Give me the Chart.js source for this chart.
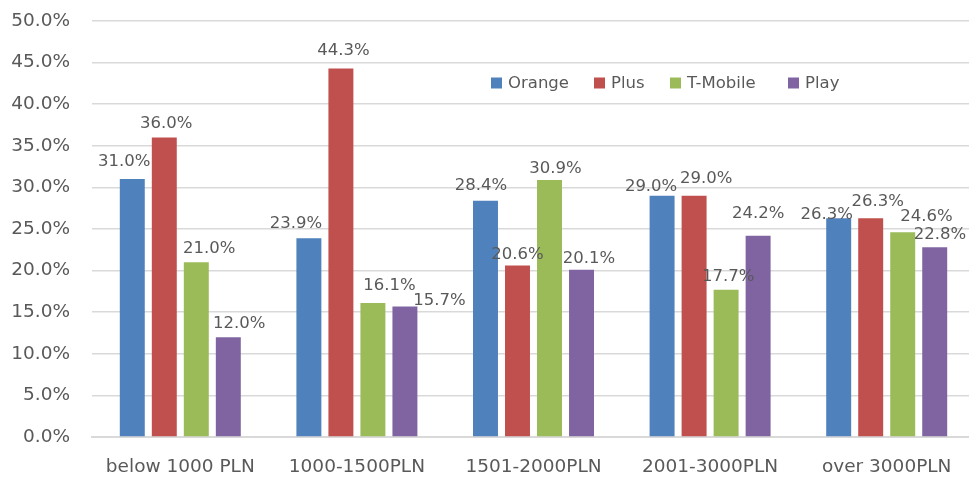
<!DOCTYPE html>
<html><head><meta charset="utf-8">
<script src="https://cdn.jsdelivr.net/npm/chart.js@4/dist/chart.umd.min.js"></script>
<style>html,body{margin:0;padding:0;background:#fff;overflow:hidden;}#wrap{width:976px;height:477px;}</style>
</head><body><div id="wrap"><canvas id="c" width="976" height="477"></canvas></div>
<script>
const categories = ["below 1000 PLN", "1000-1500PLN", "1501-2000PLN", "2001-3000PLN", "over 3000PLN"];
const seriesNames = ["Orange", "Plus", "T-Mobile", "Play"];
const orange = [31.0, 23.9, 28.4, 29.0, 26.3];
const plus = [36.0, 44.3, 20.6, 29.0, 26.3];
const tmobile = [21.0, 16.1, 30.9, 17.7, 24.6];
const play = [12.0, 15.7, 20.1, 24.2, 22.8];
const colors = ["#4F81BD", "#C0504D", "#9BBB59", "#8064A2"];
const FONT = "'DejaVu Sans', sans-serif";
const TXT = "#595959";

// manual nudges of the data labels (dx, dy of the label's cap-centre relative to bar top-centre)
const labelNudges = [
  [[-8,-19], [-13,-16], [-4.5,-17], [-11,-11], [-12,-5.6]],
  [[2,-15.7], [2.5,-19], [0,-12.3], [12,-19], [7,-18]],
  [[13,-15.6], [16.5,-19], [6,-13.3], [2,-15], [23.7,-17.7]],
  [[11,-15.6], [34.5,-7.7], [7.5,-12.3], [0,-23.7], [5.3,-14]]
];
const legendSlots = [491, 594, 670, 788];

const labelPlugin = {
  id: 'vals',
  afterDatasetsDraw(chart) {
    const ctx = chart.ctx;
    const size = 16.5;
    ctx.save();
    ctx.font = size + "px " + FONT;
    ctx.fillStyle = TXT;
    ctx.textAlign = 'center';
    ctx.textBaseline = 'alphabetic';
    const half = 0.729 * size / 2;
    chart.data.datasets.forEach((ds, i) => {
      chart.getDatasetMeta(i).data.forEach((bar, j) => {
        const n = labelNudges[i][j];
        ctx.fillText(ds.data[j].toFixed(1) + '%', bar.x + n[0], bar.y + n[1] + half);
      });
    });
    ctx.restore();
  }
};
const legendPlugin = {
  id: 'inlegend',
  afterDraw(chart) {
    const ctx = chart.ctx;
    const size = 16.5;
    ctx.save();
    ctx.font = size + "px " + FONT;
    ctx.textBaseline = 'alphabetic';
    const y = 82;
    chart.data.datasets.forEach((ds, i) => {
      const x = legendSlots[i];
      ctx.fillStyle = ds.backgroundColor;
      ctx.fillRect(x, y - 4.5, 11, 11);
      ctx.fillStyle = TXT;
      ctx.textAlign = 'left';
      ctx.fillText(ds.label, x + 17, y + 0.729 * size / 2);
    });
    ctx.restore();
  }
};

new Chart(document.getElementById('c'), {
  type: 'bar',
  data: {
    labels: categories,
    datasets: [orange, plus, tmobile, play].map((d, i) => ({
      label: seriesNames[i], data: d, backgroundColor: colors[i],
      categoryPercentage: 0.725, barPercentage: 0.78
    }))
  },
  options: {
    responsive: false, animation: false,
    layout: { padding: { top: 21, right: 1, left: 0, bottom: 0 } },
    plugins: { legend: { display: false }, tooltip: { enabled: false } },
    scales: {
      x: {
        grid: { display: false, drawTicks: false },
        border: { display: true, color: '#d9d9d9', width: 2 },
        ticks: { color: TXT, font: { size: 18.5, family: FONT }, padding: 19, maxRotation: 0 },
        afterFit(s) { s.height = 40; s.paddingLeft = 0; s.paddingRight = 0; }
      },
      y: {
        min: 0, max: 50,
        grid: { color: '#d9d9d9', drawTicks: false, lineWidth: 1.5 },
        border: { display: false },
        ticks: { stepSize: 5, color: TXT, font: { size: 18.5, family: FONT }, padding: 22,
          callback: v => v.toFixed(1) + '%' },
        afterFit(s) { s.width = 92; s.paddingTop = 0; s.paddingBottom = 0; }
      }
    }
  },
  plugins: [labelPlugin, legendPlugin]
});
</script></body></html>
